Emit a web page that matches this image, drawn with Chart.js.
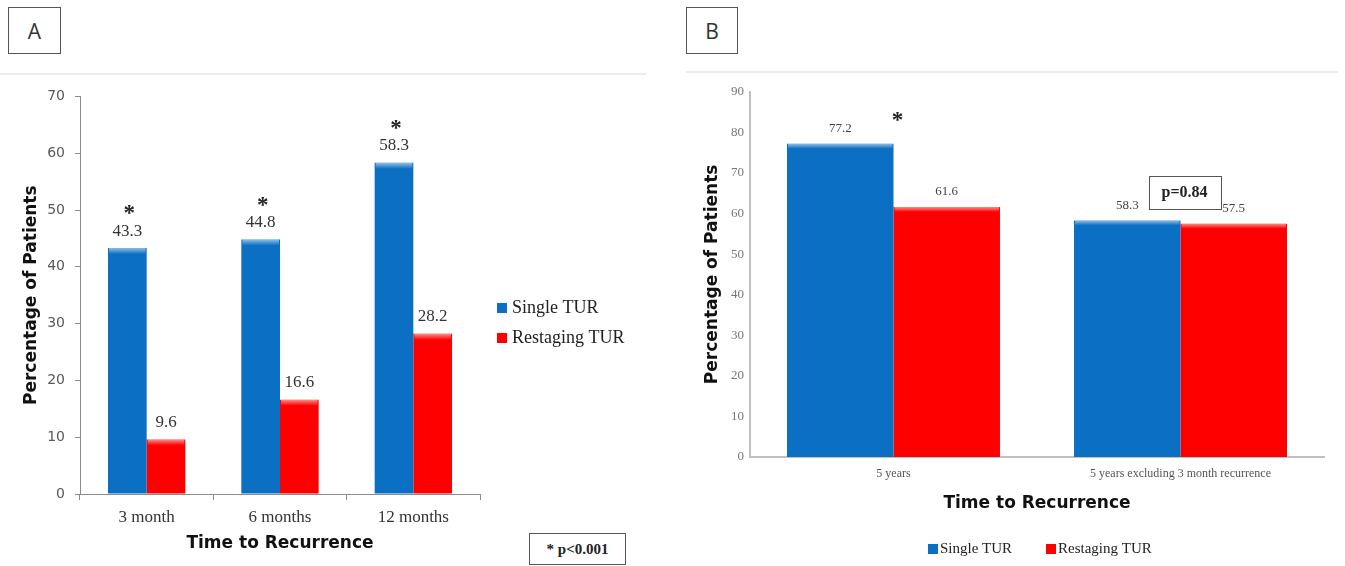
<!DOCTYPE html>
<html>
<head>
<meta charset="utf-8">
<script src="https://cdn.jsdelivr.net/npm/chart.js@4/dist/chart.umd.min.js"></script>
<style>
  html, body { margin: 0; padding: 0; background: #fff; }
  body { width: 1345px; height: 566px; position: relative; overflow: hidden; }
  canvas { position: absolute; }
  .tag {
    position: absolute; box-sizing: border-box; border: 1px solid #555;
    font: 21px "Open Sans", "Liberation Sans", sans-serif; color: #333;
    display: flex; align-items: center; justify-content: center;
  }
  .rule { position: absolute; height: 2px; background: #ececec; }
  .note {
    position: absolute; box-sizing: border-box; border: 1px solid #555;
    font: bold 15px "Liberation Serif", "Times New Roman", serif; color: #222;
    display: flex; align-items: center; justify-content: center;
  }
</style>
</head>
<body>
<div class="tag" style="left:8px;top:7px;width:53px;height:47px;">A</div>
<div class="rule" style="left:0;top:73px;width:646px;"></div>
<div class="tag" style="left:686px;top:7px;width:52px;height:47px;">B</div>
<div class="rule" style="left:686px;top:71px;width:652px;"></div>
<div class="note" style="left:529px;top:533px;width:97px;height:32px;">* p&lt;0.001</div>

<canvas id="chartA" width="660" height="488" style="left:0;top:78px;"></canvas>
<canvas id="chartB" width="665" height="488" style="left:680px;top:78px;"></canvas>

<script>
// Recurrence within the first year, by interval
const intervalsA = ['3 month', '6 months', '12 months'];
const singleTurA = [43.3, 44.8, 58.3];
const restagingTurA = [9.6, 16.6, 28.2];
const marksA = ['*', '*', '*'];
const yTicksA = [0, 10, 20, 30, 40, 50, 60, 70];

// Recurrence at five years
const intervalsB = ['5 years', '5 years excluding 3 month recurrence'];
const singleTurB = [77.2, 58.3];
const restagingTurB = [61.6, 57.5];
const marksB = ['*', 'p=0.84'];
const yTicksB = [0, 10, 20, 30, 40, 50, 60, 70, 80, 90];

const seriesNames = ['Single TUR', 'Restaging TUR'];
const BLUE = '#0b6fc4';
const RED = '#fe0000';

const SERIF = '"Liberation Serif", "Times New Roman", serif';
const SANS_BOLD = '"DejaVu Sans", sans-serif';

// Light bevel along the top edge of each bar
const barBevel = {
  id: 'barBevel',
  afterDatasetsDraw(chart, args, opts) {
    const ctx = chart.ctx;
    ctx.save();
    chart.data.datasets.forEach((ds, di) => {
      chart.getDatasetMeta(di).data.forEach(bar => {
        const left = bar.x - bar.width / 2;
        const h = Math.min(opts.depth, bar.base - bar.y);
        const g = ctx.createLinearGradient(0, bar.y, 0, bar.y + h);
        g.addColorStop(0, 'rgba(255,255,255,0.55)');
        g.addColorStop(1, 'rgba(255,255,255,0)');
        ctx.fillStyle = g;
        ctx.fillRect(left + 1, bar.y, bar.width - 2, h);
      });
    });
    ctx.restore();
  }
};

// Value printed above every bar
const valueLabels = {
  id: 'valueLabels',
  afterDatasetsDraw(chart, args, opts) {
    const ctx = chart.ctx;
    ctx.save();
    ctx.font = opts.font;
    ctx.fillStyle = opts.color;
    ctx.textAlign = 'center';
    ctx.textBaseline = 'middle';
    chart.data.datasets.forEach((ds, di) => {
      chart.getDatasetMeta(di).data.forEach((bar, i) => {
        ctx.fillText(ds.data[i].toFixed(1), bar.x, bar.y - opts.offset);
      });
    });
    ctx.restore();
  }
};

// Significance markers: asterisk, or a boxed p-value
const sigMarks = {
  id: 'sigMarks',
  afterDatasetsDraw(chart, args, opts) {
    const ctx = chart.ctx;
    const xs = chart.scales.x;
    ctx.save();
    ctx.textAlign = 'center';
    opts.marks.forEach((m, i) => {
      if (!m) return;
      const bars = chart.data.datasets.map((d, di) => chart.getDatasetMeta(di).data[i]);
      const baseX = opts.anchor === 'first' ? bars[0].x : xs.getPixelForValue(i);
      const x = baseX + opts.dx;
      const y = Math.min(...bars.map(b => b.y)) - opts.dy;
      if (m === '*') {
        ctx.font = opts.starFont;
        ctx.fillStyle = '#222';
        ctx.textBaseline = 'alphabetic';
        ctx.fillText('*', x, y + opts.starShift);
      } else {
        const w = opts.boxW, h = opts.boxH;
        ctx.fillStyle = '#fff';
        ctx.fillRect(x - w / 2, y - h / 2, w, h);
        ctx.strokeStyle = '#555';
        ctx.lineWidth = 1;
        ctx.strokeRect(Math.round(x - w / 2) + 0.5, Math.round(y - h / 2) + 0.5, w, h);
        ctx.font = opts.boxFont;
        ctx.fillStyle = '#222';
        ctx.textBaseline = 'middle';
        ctx.fillText(m, x, y);
      }
    });
    ctx.restore();
  }
};

// Legend swatches built from the datasets
const swatchLegend = {
  id: 'swatchLegend',
  afterDraw(chart, args, opts) {
    const ctx = chart.ctx;
    ctx.save();
    ctx.font = opts.font;
    ctx.textAlign = 'left';
    ctx.textBaseline = 'middle';
    chart.data.datasets.forEach((ds, i) => {
      const p = opts.slots[i];
      ctx.fillStyle = ds.backgroundColor;
      ctx.fillRect(p.x, p.y - opts.box / 2, opts.box, opts.box);
      ctx.fillStyle = opts.color;
      ctx.fillText(ds.label, p.x + opts.box + opts.gap, p.y);
    });
    ctx.restore();
  }
};

Chart.register(barBevel, valueLabels, sigMarks, swatchLegend);

function setTicks(values) {
  return scale => { scale.ticks = values.map(v => ({ value: v })); };
}

// Panel A
new Chart(document.getElementById('chartA'), {
  type: 'bar',
  data: {
    labels: intervalsA,
    datasets: [
      { label: seriesNames[0], data: singleTurA, backgroundColor: BLUE },
      { label: seriesNames[1], data: restagingTurA, backgroundColor: RED }
    ]
  },
  options: {
    responsive: false,
    animation: false,
    events: [],
    layout: { padding: { top: 17, right: 180, bottom: 0, left: 0 } },
    datasets: { bar: { categoryPercentage: 0.58, barPercentage: 1 } },
    plugins: {
      legend: { display: false },
      tooltip: { enabled: false },
      barBevel: { depth: 6 },
      valueLabels: { font: '17px ' + SERIF, color: '#333', offset: 17 },
      sigMarks: { marks: marksA, anchor: 'first', dx: 2, dy: 39, starFont: 'bold 23px ' + SERIF, starShift: 11 },
      swatchLegend: {
        font: '18px ' + SERIF, color: '#222', box: 10, gap: 5,
        slots: [{ x: 497, y: 230 }, { x: 497, y: 260 }]
      }
    },
    scales: {
      x: {
        grid: { display: true, drawOnChartArea: false, tickLength: 6, color: '#8c8c8c', offset: true },
        border: { color: '#8c8c8c' },
        ticks: { font: { family: SERIF, size: 17 }, color: '#333', padding: 7 },
        title: {
          display: true, text: 'Time to Recurrence', color: '#111',
          font: { family: SANS_BOLD, size: 17, weight: 'bold' }, padding: { top: 0, bottom: 12 }
        },
        afterFit(s) { s.height = 72; }
      },
      y: {
        min: 0, max: 70,
        afterBuildTicks: setTicks(yTicksA),
        grid: { display: true, drawOnChartArea: false, tickLength: 5, color: '#8c8c8c' },
        border: { color: '#8c8c8c' },
        ticks: { font: { family: SANS_BOLD, size: 14 }, color: '#595959', padding: 10 },
        title: {
          display: true, text: 'Percentage of Patients', color: '#111',
          font: { family: SANS_BOLD, size: 17, weight: 'bold' }, padding: { top: 21, bottom: 0 }
        },
        afterFit(s) { s.width = 80; }
      }
    }
  }
});

// Panel B
new Chart(document.getElementById('chartB'), {
  type: 'bar',
  data: {
    labels: intervalsB,
    datasets: [
      { label: seriesNames[0], data: singleTurB, backgroundColor: BLUE },
      { label: seriesNames[1], data: restagingTurB, backgroundColor: RED }
    ]
  },
  options: {
    responsive: false,
    animation: false,
    events: [],
    layout: { padding: { top: 13, right: 21, bottom: 0, left: 0 } },
    datasets: { bar: { categoryPercentage: 0.742, barPercentage: 1 } },
    plugins: {
      legend: { display: false },
      tooltip: { enabled: false },
      barBevel: { depth: 5 },
      valueLabels: { font: '13px ' + SERIF, color: '#444', offset: 15 },
      sigMarks: {
        marks: marksB, anchor: 'category', dx: 4, dy: 28,
        starFont: 'bold 23px ' + SERIF, starShift: 11,
        boxW: 72, boxH: 33, boxFont: 'bold 16px ' + SERIF
      },
      swatchLegend: {
        font: '15px ' + SERIF, color: '#222', box: 10, gap: 2,
        slots: [{ x: 248, y: 471 }, { x: 366, y: 471 }]
      }
    },
    scales: {
      x: {
        grid: { display: false, drawTicks: false },
        border: { color: '#bfbfbf', width: 2 },
        ticks: { font: { family: SERIF, size: 12 }, color: '#555', padding: 10 },
        title: {
          display: true, text: 'Time to Recurrence', color: '#111',
          font: { family: SANS_BOLD, size: 17, weight: 'bold' }, padding: { top: 0, bottom: 52 }
        },
        afterFit(s) { s.height = 109; }
      },
      y: {
        min: 0, max: 90,
        afterBuildTicks: setTicks(yTicksB),
        grid: { display: false, drawTicks: false },
        border: { color: '#bfbfbf', width: 2 },
        ticks: { font: { family: SERIF, size: 13 }, color: '#777', padding: 6 },
        title: {
          display: true, text: 'Percentage of Patients', color: '#111',
          font: { family: SANS_BOLD, size: 17, weight: 'bold' }, padding: { top: 22, bottom: 0 }
        },
        afterFit(s) { s.width = 70; }
      }
    }
  }
});
</script>
</body>
</html>
